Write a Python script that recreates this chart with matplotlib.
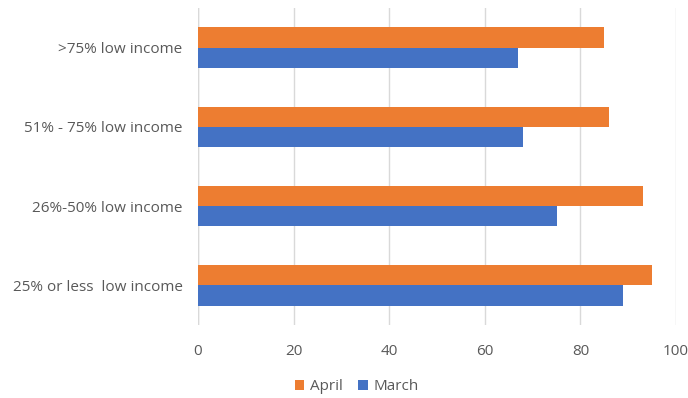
import matplotlib
matplotlib.use("Agg")
import matplotlib.pyplot as plt
import numpy as np

categories = ["25% or less  low income", "26%-50% low income", "51% - 75% low income", ">75% low income"]
april = [95, 93, 86, 85]
march = [89, 75, 68, 67]
xticks = [0, 20, 40, 60, 80, 100]

plt.rcParams['font.family'] = ['Open Sans', 'DejaVu Sans']

fig = plt.figure(figsize=(6.88, 3.98), dpi=100)
ax = fig.add_axes([198/688, 1-325/398, (676-198)/688, (325-8)/398])

y = np.arange(len(categories))
h = 0.255
ax.barh(y + h/2, april, height=h, color="#ED7D31", label="April", zorder=3)
ax.barh(y - h/2, march, height=h, color="#4472C4", label="March", zorder=3)

ax.set_xlim(0, 100)
ax.set_ylim(-0.5, len(categories) - 0.5)
ax.set_xticks(xticks)
ax.set_yticks(y)
ax.set_yticklabels(categories)
ax.xaxis.grid(True, color="#D9D9D9", linewidth=1, zorder=0)
for s in ax.spines.values():
    s.set_visible(False)
ax.axvline(0, color="#D9D9D9", linewidth=1, zorder=1)
ax.tick_params(axis='both', length=0, labelsize=11, colors="#595959")
ax.tick_params(axis='x', pad=14)
ax.tick_params(axis='y', pad=11)

handles, labels = ax.get_legend_handles_labels()
fig.legend(handles, labels, loc="center", bbox_to_anchor=(357/688, 1-387/398), ncol=2,
           frameon=False, fontsize=11, handlelength=0.6, handleheight=0.6,
           handletextpad=0.4, columnspacing=1.0, labelcolor="#595959")

fig.savefig("out.png", dpi=100)
